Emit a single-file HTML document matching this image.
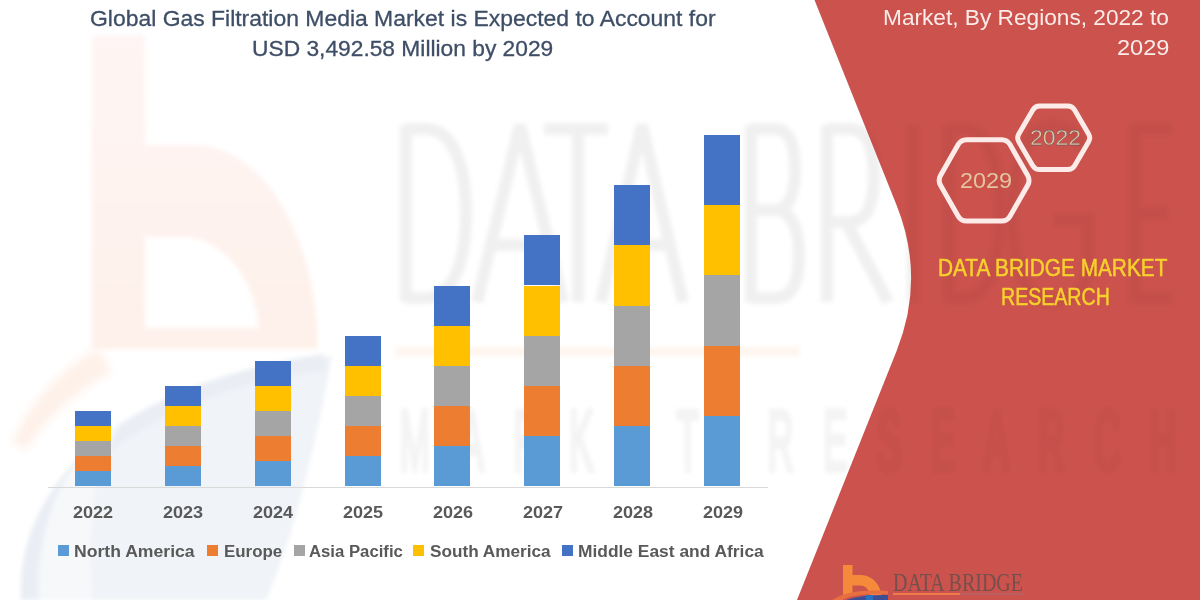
<!DOCTYPE html>
<html><head><meta charset="utf-8">
<style>
html,body{margin:0;padding:0;}
body{width:1200px;height:600px;position:relative;overflow:hidden;background:#fff;font-family:"Liberation Sans",sans-serif;}
.abs{position:absolute;white-space:nowrap;}
.bar{position:absolute;width:36px;}
.t{position:absolute;white-space:nowrap;transform-origin:0 0;}
.lab{position:absolute;font-weight:bold;font-size:17px;color:#595959;width:60px;text-align:center;top:503px;transform:scaleX(1.06);}
.sq{position:absolute;width:11px;height:11px;top:545px;}
.lg{position:absolute;font-weight:bold;font-size:16px;color:#595959;top:542.5px;transform-origin:0 0;white-space:nowrap;}
</style></head><body>
<svg class="abs" style="left:0;top:0" width="1200" height="600" viewBox="0 0 1200 600">
  <defs>
    <linearGradient id="bg1" x1="0" y1="0" x2="0" y2="1">
      <stop offset="0" stop-color="#FEF5F4"/>
      <stop offset="1" stop-color="#FEF1EA"/>
    </linearGradient>
    <filter id="bl" x="-20%" y="-20%" width="140%" height="140%"><feGaussianBlur stdDeviation="2"/></filter>
    <filter id="bl05" x="-5%" y="-5%" width="110%" height="110%"><feGaussianBlur stdDeviation="0.5"/></filter>
    <filter id="bl4" x="-20%" y="-20%" width="140%" height="140%"><feGaussianBlur stdDeviation="4"/></filter>
  </defs>
  <g filter="url(#bl)">
  <!-- b stem and bowl -->
  <path d="M92,35 L145,35 L145,145 L200,145 C265,150 318,240 318,349 L92,349 Z M145,237 L187,237 C225,240 258,285 258,328 L145,328 Z" fill="url(#bg1)" fill-rule="evenodd"/>
  <rect x="395" y="347" width="405" height="9" fill="#FEF5EE"/>
  <!-- orange swoosh -->

  <!-- blue crescent -->
  <path d="M25,600 C15,480 120,380 332,356 C320,420 300,520 266,600 Z" fill="#F0F3F7"/>
  <path d="M29,600 C22,490 125,390 325,362" fill="none" stroke="#EAEEF4" stroke-width="16"/>
  <path d="M40,600 C36,520 62,460 120,425 C90,470 88,540 93,600 Z" fill="#F6F8FA"/>
  </g>
  <path filter="url(#bl4)" d="M12,442 C30,402 60,370 98,348 L112,372 C75,392 45,420 26,450 Z" fill="#FEF1E9"/>
</svg>
<svg class="abs" style="left:0;top:0" width="1200" height="600" viewBox="0 0 1200 600">
  <path d="M814.5,0 L896.5,205 Q925.75,278.1 896.5,351.2 L797,600 L1200,600 L1200,0 Z" fill="#CB524D"/>
  <!-- hexagons -->
</svg>

<svg class="abs" style="left:0;top:0" width="1200" height="600" viewBox="0 0 1200 600">
  <defs><clipPath id="cw"><path d="M0,0 L814.5,0 L896.5,205 Q925.75,278.1 896.5,351.2 L797,600 L0,600 Z"/></clipPath><clipPath id="cr"><path d="M814.5,0 L896.5,205 Q925.75,278.1 896.5,351.2 L797,600 L1200,600 L1200,0 Z"/></clipPath></defs>
  <g clip-path="url(#cw)"><g fill="none" stroke="#000" stroke-opacity="0.06" stroke-width="12" filter="url(#bl)">
    <path d="M406,125 L406,302 M406,129 L425,129 C455,129 466,170 466,213 C466,258 455,298 425,298 L406,298"/>
    <path d="M477,302 L520,125 L563,302 M490,245 L550,245"/>
    <path d="M544,129 L608,129 M578,129 L578,302"/>
    <path d="M601,302 L642,125 L683,302 M613,245 L671,245"/>
    <path d="M751,125 L751,302 M751,129 L775,129 C790,129 795,145 795,170 C795,195 788,210 775,210 L751,210 M775,210 C792,210 799,230 799,255 C799,285 790,298 775,298 L751,298"/>
    <path d="M827,125 L827,302 M827,129 L850,129 C868,129 874,150 874,177 C874,205 866,222 850,222 L827,222 M846,222 L888,302"/>
    <path d="M913,125 L913,302"/>
    <path d="M949,125 L949,302 M949,129 L965,129 C990,129 1000,170 1000,213 C1000,258 990,298 965,298 L949,298"/>
    <path d="M1085,150 C1078,132 1068,125 1052,125 C1025,125 1012,170 1012,213 C1012,260 1025,302 1052,302 C1070,302 1085,290 1088,270 L1088,220 L1055,220"/>
    <path d="M1135,125 L1135,302 M1135,129 L1172,129 M1135,213 L1168,213 M1135,298 L1172,298"/>
  </g>
  <g opacity="0.045" filter="url(#bl)"><text transform="scale(0.42,1)" x="952" y="470" font-family="Liberation Sans" font-size="86" textLength="1848" lengthAdjust="spacing" fill="#000" stroke="#000" stroke-width="6">MARKET RESEARCH</text></g></g>
  <g clip-path="url(#cr)"><g fill="none" stroke="#000" stroke-opacity="0.035" stroke-width="12" filter="url(#bl)">
    <path d="M406,125 L406,302 M406,129 L425,129 C455,129 466,170 466,213 C466,258 455,298 425,298 L406,298"/>
    <path d="M477,302 L520,125 L563,302 M490,245 L550,245"/>
    <path d="M544,129 L608,129 M578,129 L578,302"/>
    <path d="M601,302 L642,125 L683,302 M613,245 L671,245"/>
    <path d="M751,125 L751,302 M751,129 L775,129 C790,129 795,145 795,170 C795,195 788,210 775,210 L751,210 M775,210 C792,210 799,230 799,255 C799,285 790,298 775,298 L751,298"/>
    <path d="M827,125 L827,302 M827,129 L850,129 C868,129 874,150 874,177 C874,205 866,222 850,222 L827,222 M846,222 L888,302"/>
    <path d="M913,125 L913,302"/>
    <path d="M949,125 L949,302 M949,129 L965,129 C990,129 1000,170 1000,213 C1000,258 990,298 965,298 L949,298"/>
    <path d="M1085,150 C1078,132 1068,125 1052,125 C1025,125 1012,170 1012,213 C1012,260 1025,302 1052,302 C1070,302 1085,290 1088,270 L1088,220 L1055,220"/>
    <path d="M1135,125 L1135,302 M1135,129 L1172,129 M1135,213 L1168,213 M1135,298 L1172,298"/>
  </g>
  <g opacity="0.025" filter="url(#bl)"><text transform="scale(0.42,1)" x="952" y="470" font-family="Liberation Sans" font-size="86" textLength="1848" lengthAdjust="spacing" fill="#000" stroke="#000" stroke-width="6">MARKET RESEARCH</text></g></g>
</svg>
<svg class="abs" style="left:0;top:0" width="1200" height="600" viewBox="0 0 1200 600">
  <path d="M1018.8,133.9 L1032.8,109.9 Q1035.1,106.0 1039.6,106.0 L1067.8,106.0 Q1072.3,106.0 1074.6,109.9 L1088.6,133.9 Q1090.9,137.8 1088.6,141.7 L1074.6,165.7 Q1072.3,169.6 1067.8,169.6 L1039.6,169.6 Q1035.1,169.6 1032.8,165.7 L1018.8,141.7 Q1016.5,137.8 1018.8,133.9 Z" fill="none" stroke="#FCEBE8" stroke-width="5"/>
  <path d="M940.5,175.6 L958.2,144.6 Q961.0,139.8 966.5,139.8 L1001.8,139.8 Q1007.2,139.8 1010.0,144.6 L1027.7,175.6 Q1030.4,180.4 1027.7,185.2 L1010.0,216.2 Q1007.2,221.0 1001.8,221.0 L966.5,221.0 Q961.0,221.0 958.2,216.2 L940.5,185.2 Q937.8,180.4 940.5,175.6 Z" fill="none" stroke="#FCEBE8" stroke-width="5"/>
</svg>
<svg class="abs" style="left:0;top:0" width="1200" height="600" viewBox="0 0 1200 600">
  <g filter="url(#bl05)">
  <path d="M843,565 L852.5,565 L852.5,575 L862,575 C873,576 881,585 881.5,597 L870.5,597 C869.5,590 866,585.5 860,585.5 L852.5,585.5 L852.5,596 L843,596 Z" fill="#F58A3B"/>
  <path d="M832,600 C845,592 862,589.5 888,591 L888,594.5 C866,593.5 850,595.5 842,600 Z" fill="#E8703F"/>
  <path d="M846,600 C858,596 872,594.5 888,595 L888,600 Z" fill="#3D4F94"/>
  <rect x="866" y="595" width="7" height="5" fill="#2F6FC0"/>
  <text x="893" y="591" font-family="Liberation Serif" font-size="26" textLength="130" lengthAdjust="spacingAndGlyphs" fill="#74504B">DATA BRIDGE</text>
  <rect x="893" y="593" width="67" height="2" fill="#EE7A4E"/>
  <rect x="960" y="593" width="63" height="2" fill="#B7625F"/>
  </g>
</svg>
<div class="t" id="title1" style="left:90px;top:6px;font-size:22px;transform:scaleX(1.042);-webkit-text-stroke:0.3px #3E4E66;color:#3E4E66;">Global Gas Filtration Media Market is Expected to Account for</div>
<div class="t" id="title2" style="left:252px;top:35.5px;font-size:22px;transform:scaleX(1.035);-webkit-text-stroke:0.3px #3E4E66;color:#3E4E66;">USD 3,492.58 Million by 2029</div>

<div class="t" id="rt1" style="left:883px;top:4.7px;font-size:22px;transform:scaleX(1.03);color:#FCECE9;">Market, By Regions, 2022 to</div>
<div class="t" id="rt2" style="left:1116.5px;top:35px;font-size:22px;transform:scaleX(1.07);color:#FCECE9;">2029</div>

<div class="t" id="h29" style="left:960px;top:168px;font-size:22px;transform:scaleX(1.064);color:#E3C59F;">2029</div>
<div class="t" id="h22" style="left:1030px;top:125px;font-size:22px;transform:scaleX(1.042);-webkit-text-stroke:0.3px #3E4E66;color:#E3C59F;">2022</div>

<div class="t" id="dbm1" style="left:938px;top:255px;font-size:23px;transform:scaleX(0.905);-webkit-text-stroke:0.5px #F7D12C;color:#F7D12C;">DATA BRIDGE MARKET</div>
<div class="t" id="dbm2" style="left:1001px;top:284px;font-size:23px;transform:scaleX(0.851);-webkit-text-stroke:0.5px #F7D12C;color:#F7D12C;">RESEARCH</div>

<!-- axis -->
<div class="abs" style="left:48px;top:486.5px;width:720px;height:1px;background:#D9D9D9"></div>

<div class="bar" style="left:75.0px;top:471.24px;height:15.06px;background:#5B9BD5"></div>
<div class="bar" style="left:75.0px;top:456.18px;height:15.06px;background:#ED7D31"></div>
<div class="bar" style="left:75.0px;top:441.12px;height:15.06px;background:#A5A5A5"></div>
<div class="bar" style="left:75.0px;top:426.06px;height:15.06px;background:#FFC000"></div>
<div class="bar" style="left:75.0px;top:411.00px;height:15.06px;background:#4472C4"></div>
<div class="bar" style="left:164.9px;top:466.22px;height:20.08px;background:#5B9BD5"></div>
<div class="bar" style="left:164.9px;top:446.14px;height:20.08px;background:#ED7D31"></div>
<div class="bar" style="left:164.9px;top:426.06px;height:20.08px;background:#A5A5A5"></div>
<div class="bar" style="left:164.9px;top:405.98px;height:20.08px;background:#FFC000"></div>
<div class="bar" style="left:164.9px;top:385.90px;height:20.08px;background:#4472C4"></div>
<div class="bar" style="left:254.7px;top:461.20px;height:25.10px;background:#5B9BD5"></div>
<div class="bar" style="left:254.7px;top:436.10px;height:25.10px;background:#ED7D31"></div>
<div class="bar" style="left:254.7px;top:411.00px;height:25.10px;background:#A5A5A5"></div>
<div class="bar" style="left:254.7px;top:385.90px;height:25.10px;background:#FFC000"></div>
<div class="bar" style="left:254.7px;top:360.80px;height:25.10px;background:#4472C4"></div>
<div class="bar" style="left:344.6px;top:456.18px;height:30.12px;background:#5B9BD5"></div>
<div class="bar" style="left:344.6px;top:426.06px;height:30.12px;background:#ED7D31"></div>
<div class="bar" style="left:344.6px;top:395.94px;height:30.12px;background:#A5A5A5"></div>
<div class="bar" style="left:344.6px;top:365.82px;height:30.12px;background:#FFC000"></div>
<div class="bar" style="left:344.6px;top:335.70px;height:30.12px;background:#4472C4"></div>
<div class="bar" style="left:434.4px;top:446.14px;height:40.16px;background:#5B9BD5"></div>
<div class="bar" style="left:434.4px;top:405.98px;height:40.16px;background:#ED7D31"></div>
<div class="bar" style="left:434.4px;top:365.82px;height:40.16px;background:#A5A5A5"></div>
<div class="bar" style="left:434.4px;top:325.66px;height:40.16px;background:#FFC000"></div>
<div class="bar" style="left:434.4px;top:285.50px;height:40.16px;background:#4472C4"></div>
<div class="bar" style="left:524.3px;top:436.10px;height:50.20px;background:#5B9BD5"></div>
<div class="bar" style="left:524.3px;top:385.90px;height:50.20px;background:#ED7D31"></div>
<div class="bar" style="left:524.3px;top:335.70px;height:50.20px;background:#A5A5A5"></div>
<div class="bar" style="left:524.3px;top:285.50px;height:50.20px;background:#FFC000"></div>
<div class="bar" style="left:524.3px;top:235.30px;height:50.20px;background:#4472C4"></div>
<div class="bar" style="left:614.2px;top:426.06px;height:60.24px;background:#5B9BD5"></div>
<div class="bar" style="left:614.2px;top:365.82px;height:60.24px;background:#ED7D31"></div>
<div class="bar" style="left:614.2px;top:305.58px;height:60.24px;background:#A5A5A5"></div>
<div class="bar" style="left:614.2px;top:245.34px;height:60.24px;background:#FFC000"></div>
<div class="bar" style="left:614.2px;top:185.10px;height:60.24px;background:#4472C4"></div>
<div class="bar" style="left:704.0px;top:416.02px;height:70.28px;background:#5B9BD5"></div>
<div class="bar" style="left:704.0px;top:345.74px;height:70.28px;background:#ED7D31"></div>
<div class="bar" style="left:704.0px;top:275.46px;height:70.28px;background:#A5A5A5"></div>
<div class="bar" style="left:704.0px;top:205.18px;height:70.28px;background:#FFC000"></div>
<div class="bar" style="left:704.0px;top:134.90px;height:70.28px;background:#4472C4"></div>

<div class="lab" style="left:63px">2022</div>
<div class="lab" style="left:153px">2023</div>
<div class="lab" style="left:243px">2024</div>
<div class="lab" style="left:333px">2025</div>
<div class="lab" style="left:423px">2026</div>
<div class="lab" style="left:513px">2027</div>
<div class="lab" style="left:603px">2028</div>
<div class="lab" style="left:693px">2029</div>

<div class="sq" style="left:58px;background:#5B9BD5"></div>
<div class="lg" id="lg1" style="left:74px;transform:scaleX(1.10)">North America</div>
<div class="sq" style="left:207px;background:#ED7D31"></div>
<div class="lg" id="lg2" style="left:223.5px;transform:scaleX(1.056)">Europe</div>
<div class="sq" style="left:294px;background:#A5A5A5"></div>
<div class="lg" id="lg3" style="left:309px;transform:scaleX(1.045)">Asia Pacific</div>
<div class="sq" style="left:413px;background:#FFC000"></div>
<div class="lg" id="lg4" style="left:429.5px;transform:scaleX(1.074)">South America</div>
<div class="sq" style="left:562px;background:#4472C4"></div>
<div class="lg" id="lg5" style="left:577.5px;transform:scaleX(1.086)">Middle East and Africa</div>
</body></html>
